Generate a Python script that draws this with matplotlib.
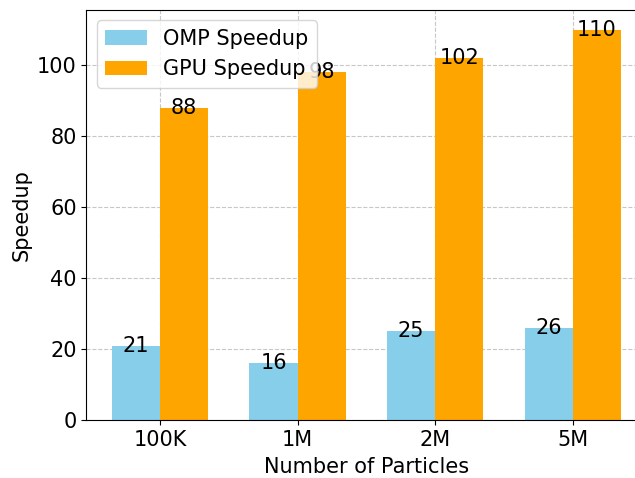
import numpy as np
import matplotlib.pyplot as plt

# Speedup values per particle count
particles = ['100K', '1M', '2M', '5M']
omp_speedup = [21, 16, 25, 26]
gpu_speedup = [88, 98, 102, 110]

plt.rcParams['font.size'] = 15

x = np.arange(len(particles))
width = 0.35

fig, ax = plt.subplots(figsize=(6.35, 4.78), dpi=100)
# the reference is cropped on the right, so the axes runs past the edge
fig.subplots_adjust(left=0.136, right=1.018, top=0.979, bottom=0.121)

bars1 = ax.bar(x - width / 2, omp_speedup, width, color='skyblue', label='OMP Speedup')
bars2 = ax.bar(x + width / 2, gpu_speedup, width, color='orange', label='GPU Speedup')

# Value labels on top of each bar
for bars in (bars1, bars2):
    for b in bars:
        h = b.get_height()
        ax.text(b.get_x() + b.get_width() / 2, h, f'{h}', ha='center', va='center')

ax.set_xticks(x)
ax.set_xticklabels(particles)
ax.set_xlabel('Number of Particles', labelpad=5)
ax.set_ylabel('Speedup')
ax.legend(loc='upper left')
ax.grid(True, linestyle='--', alpha=0.7)
ax.set_axisbelow(True)

plt.savefig('out.png')
